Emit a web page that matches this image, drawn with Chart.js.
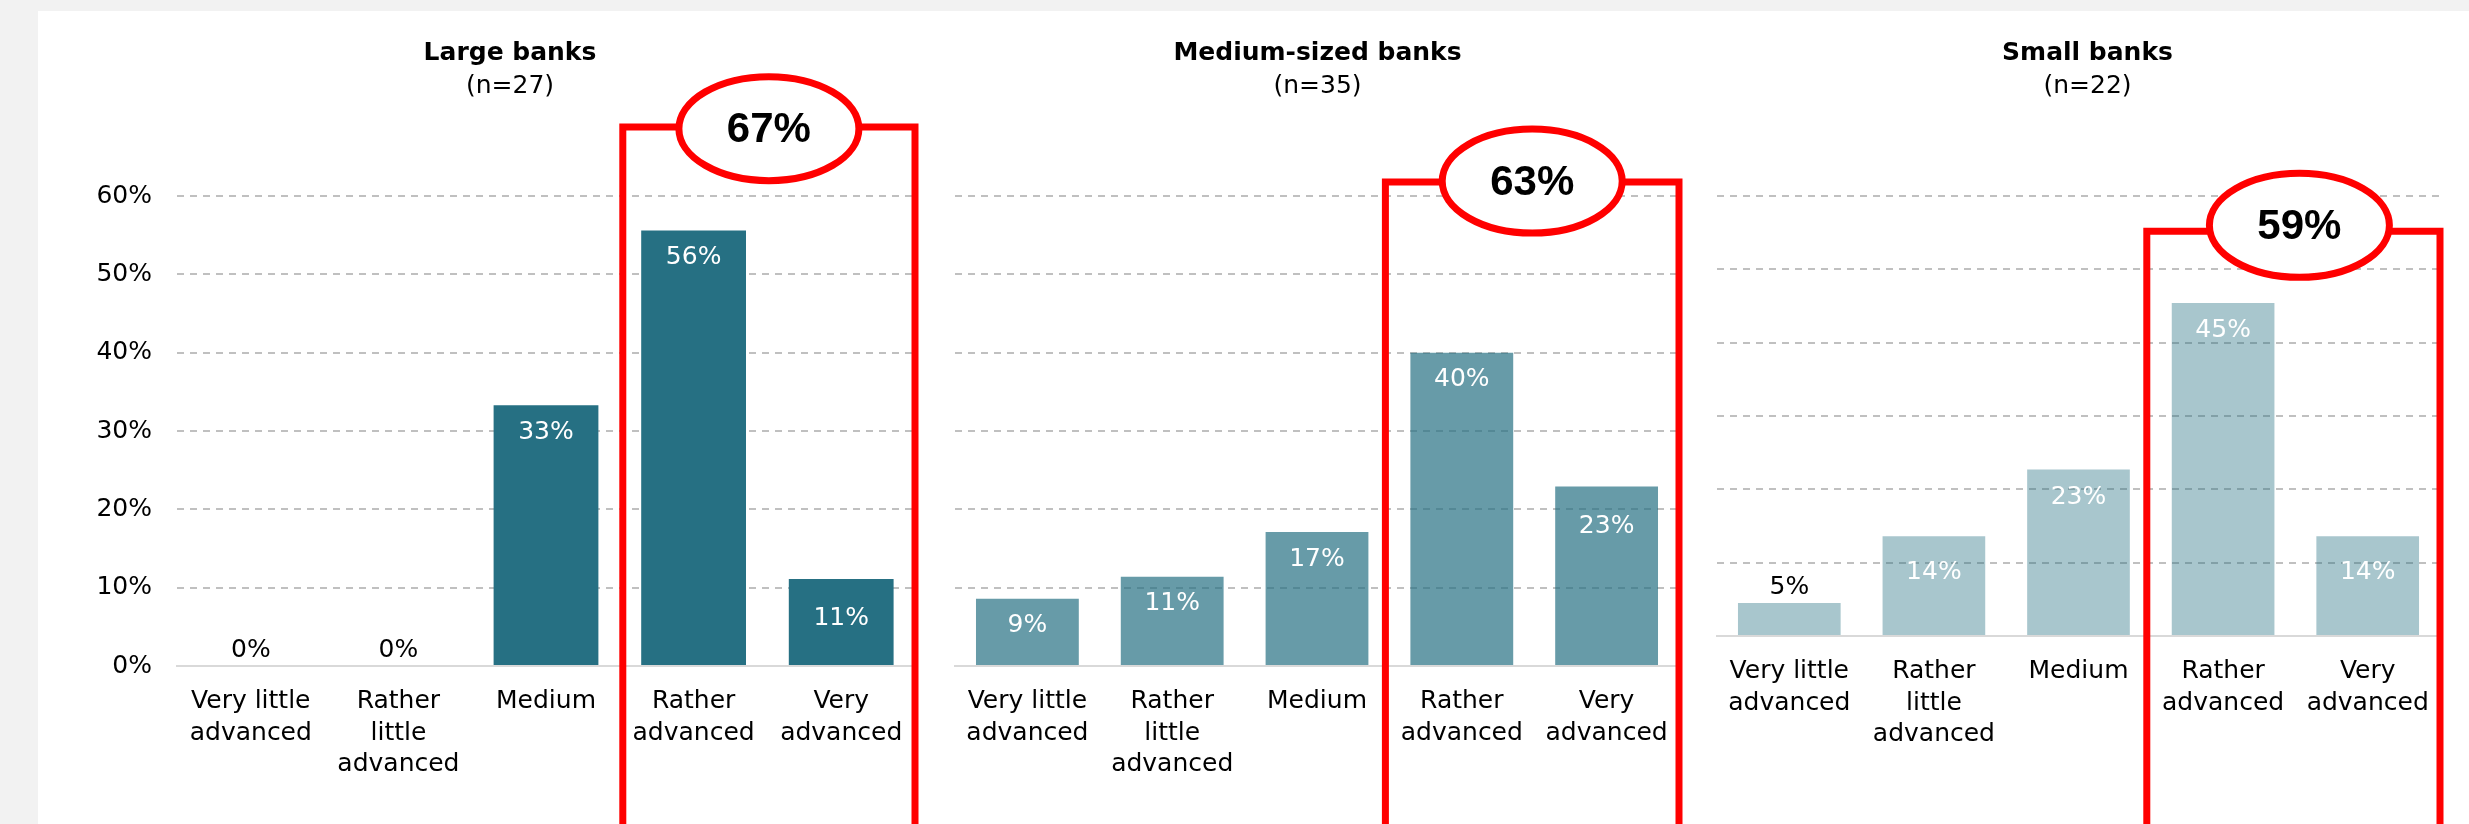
<!DOCTYPE html>
<html>
<head>
<meta charset="utf-8">
<title>Digitalisation level by bank size</title>
<script src="https://cdn.jsdelivr.net/npm/chart.js@4.4.1/dist/chart.umd.min.js"></script>
<style>
  html, body { margin: 0; padding: 0; background: #f2f2f2; }
  #page { position: relative; width: 2469px; height: 824px; overflow: hidden; }
  #sheet { position: absolute; left: 38px; top: 11px; right: 0; bottom: 0; background: #fff; }
  canvas { position: absolute; top: 0; }
</style>
</head>
<body>
<div id="page">
  <div id="sheet"></div>
  <canvas id="large-chart" width="944" height="824" style="left:38px"></canvas>
  <canvas id="medium-chart" width="753" height="824" style="left:941px"></canvas>
  <canvas id="small-chart" width="763" height="824" style="left:1706px"></canvas>
</div>
<script>
// ============================================================================
// DATA
// ============================================================================

const categories = [
    ['Very little', 'advanced'],
    ['Rather', 'little', 'advanced'],
    ['Medium'],
    ['Rather', 'advanced'],
    ['Very', 'advanced']
];
const panelTitles = ['Large banks', 'Medium-sized banks', 'Small banks'];
const sampleSizes = [27, 35, 22];

// Share of banks per category (%)
const largeBanks = [0, 0, 33.3, 55.6, 11.1];
const mediumBanks = [8.6, 11.4, 17.1, 40.0, 22.9];
const smallBanks = [4.5, 13.6, 22.7, 45.4, 13.6];

const yTicks = [0, 10, 20, 30, 40, 50, 60];
const highlighted = [3, 4];   // "Rather advanced" + "Very advanced"

// ============================================================================
// STYLE
// ============================================================================

const FONT = '"DejaVu Sans", Verdana, sans-serif';
const TEAL = '38, 112, 131';

const panels = [
    {
        canvas: 'large-chart', data: largeBanks, color: `rgb(${TEAL})`,
        axisWidth: 139, padRight: 67, xAxisHeight: 158, showTicks: true,
        frameTop: 68.8, frameInset: 3, badgeY: 68.6, badgeShift: 0,
        labelDrop: [27, 27, 27, 27, 39]
    },
    {
        canvas: 'medium-chart', data: mediumBanks, color: `rgba(${TEAL}, 0.7)`,
        axisWidth: 14, padRight: 15, xAxisHeight: 158, showTicks: false,
        frameTop: 61.8, frameInset: -4, badgeY: 61.9, badgeShift: 0,
        labelDrop: [27, 27, 27, 27, 40]
    },
    {
        canvas: 'small-chart', data: smallBanks, color: `rgba(${TEAL}, 0.4)`,
        axisWidth: 11, padRight: 29, xAxisHeight: 188, showTicks: false,
        frameTop: 55.2, frameInset: -4, badgeY: 56.0, badgeShift: 6,
        labelDrop: [27, 36, 28, 27, 36]
    }
];

// ============================================================================
// PLUGINS
// ============================================================================

/**
 * Panel heading: bold title plus sample size, centred on the canvas
 */
const headingPlugin = {
    id: 'heading',
    afterDraw(chart, args, opts) {
        const ctx = chart.ctx;
        ctx.save();
        ctx.fillStyle = '#000';
        ctx.textAlign = 'center';
        ctx.textBaseline = 'middle';
        ctx.font = `bold 25px ${FONT}`;
        ctx.fillText(opts.title, chart.width / 2, 53);
        ctx.font = `25px ${FONT}`;
        ctx.fillText(opts.subtitle, chart.width / 2, 86);
        ctx.restore();
    }
};

/**
 * Value labels: white inside the bar top, black above very short bars
 */
const valueLabels = {
    id: 'valueLabels',
    afterDatasetsDraw(chart, args, opts) {
        const ctx = chart.ctx;
        const values = chart.data.datasets[0].data;
        ctx.save();
        ctx.font = `25px ${FONT}`;
        ctx.textAlign = 'center';
        ctx.textBaseline = 'middle';
        chart.getDatasetMeta(0).data.forEach((bar, i) => {
            const v = values[i];
            const inside = v >= 6;
            ctx.fillStyle = inside ? '#fff' : '#000';
            ctx.fillText(Math.round(v) + '%', bar.x, inside ? bar.y + opts.drop[i] : bar.y - 16);
        });
        ctx.restore();
    }
};

/**
 * Red frame round the "advanced" columns with the combined share in an oval
 */
const advancedFrame = {
    id: 'advancedFrame',
    afterDraw(chart, args, opts) {
        const { ctx, chartArea, scales: { x, y } } = chart;
        const values = chart.data.datasets[0].data;
        const share = highlighted.reduce((sum, i) => sum + values[i], 0);

        const first = highlighted[0];
        const left = (x.getPixelForValue(first - 1) + x.getPixelForValue(first)) / 2 + opts.inset;
        const right = chartArea.right;
        const top = y.getPixelForValue(opts.top);

        ctx.save();
        ctx.strokeStyle = '#ff0000';
        ctx.lineWidth = 7;
        ctx.beginPath();
        ctx.moveTo(left, chart.height + 10);
        ctx.lineTo(left, top);
        ctx.lineTo(right, top);
        ctx.lineTo(right, chart.height + 10);
        ctx.stroke();

        const cx = (left + right) / 2 + opts.shift;
        const cy = y.getPixelForValue(opts.badge);
        ctx.beginPath();
        ctx.ellipse(cx, cy, 90, 52, 0, 0, Math.PI * 2);
        ctx.fillStyle = '#fff';
        ctx.fill();
        ctx.stroke();

        ctx.fillStyle = '#000';
        ctx.font = 'bold 42px "Liberation Sans", Arial, sans-serif';
        ctx.textAlign = 'center';
        ctx.textBaseline = 'middle';
        ctx.fillText(Math.round(share) + '%', cx, cy + 2);
        ctx.restore();
    }
};

// ============================================================================
// CHARTS
// ============================================================================

panels.forEach((p, idx) => {
    new Chart(document.getElementById(p.canvas), {
        type: 'bar',
        data: {
            labels: categories,
            datasets: [{
                data: p.data,
                backgroundColor: p.color,
                categoryPercentage: 1,
                barPercentage: 0.71
            }]
        },
        options: {
            responsive: false,
            animation: false,
            layout: { padding: { top: 196, right: p.padRight, bottom: 0, left: 0 } },
            plugins: {
                legend: { display: false },
                tooltip: { enabled: false },
                heading: { title: panelTitles[idx], subtitle: `(n=${sampleSizes[idx]})` },
                valueLabels: { drop: p.labelDrop },
                advancedFrame: { top: p.frameTop, inset: p.frameInset, badge: p.badgeY, shift: p.badgeShift }
            },
            scales: {
                x: {
                    grid: { display: false, drawTicks: false },
                    border: { display: true, color: '#d9d9d9', width: 2 },
                    ticks: {
                        color: '#000',
                        font: { family: FONT, size: 25, lineHeight: 1.26 },
                        padding: 20,
                        maxRotation: 0,
                        autoSkip: false
                    },
                    afterFit: (scale) => { scale.height = p.xAxisHeight; }
                },
                y: {
                    min: 0,
                    max: 60,
                    afterBuildTicks: (scale) => { scale.ticks = yTicks.map(v => ({ value: v })); },
                    grid: {
                        color: (c) => c.tick && c.tick.value === 0 ? 'rgba(0,0,0,0)' : '#c0c0c0',
                        lineWidth: 2,
                        drawTicks: false
                    },
                    border: { display: false, dash: [7, 6] },
                    ticks: {
                        display: p.showTicks,
                        callback: (v) => v + '%',
                        padding: 25,
                        color: '#000',
                        font: { family: FONT, size: 25 }
                    },
                    afterFit: (scale) => { scale.width = p.axisWidth; }
                }
            }
        },
        plugins: [headingPlugin, valueLabels, advancedFrame]
    });
});
</script>
</body>
</html>
